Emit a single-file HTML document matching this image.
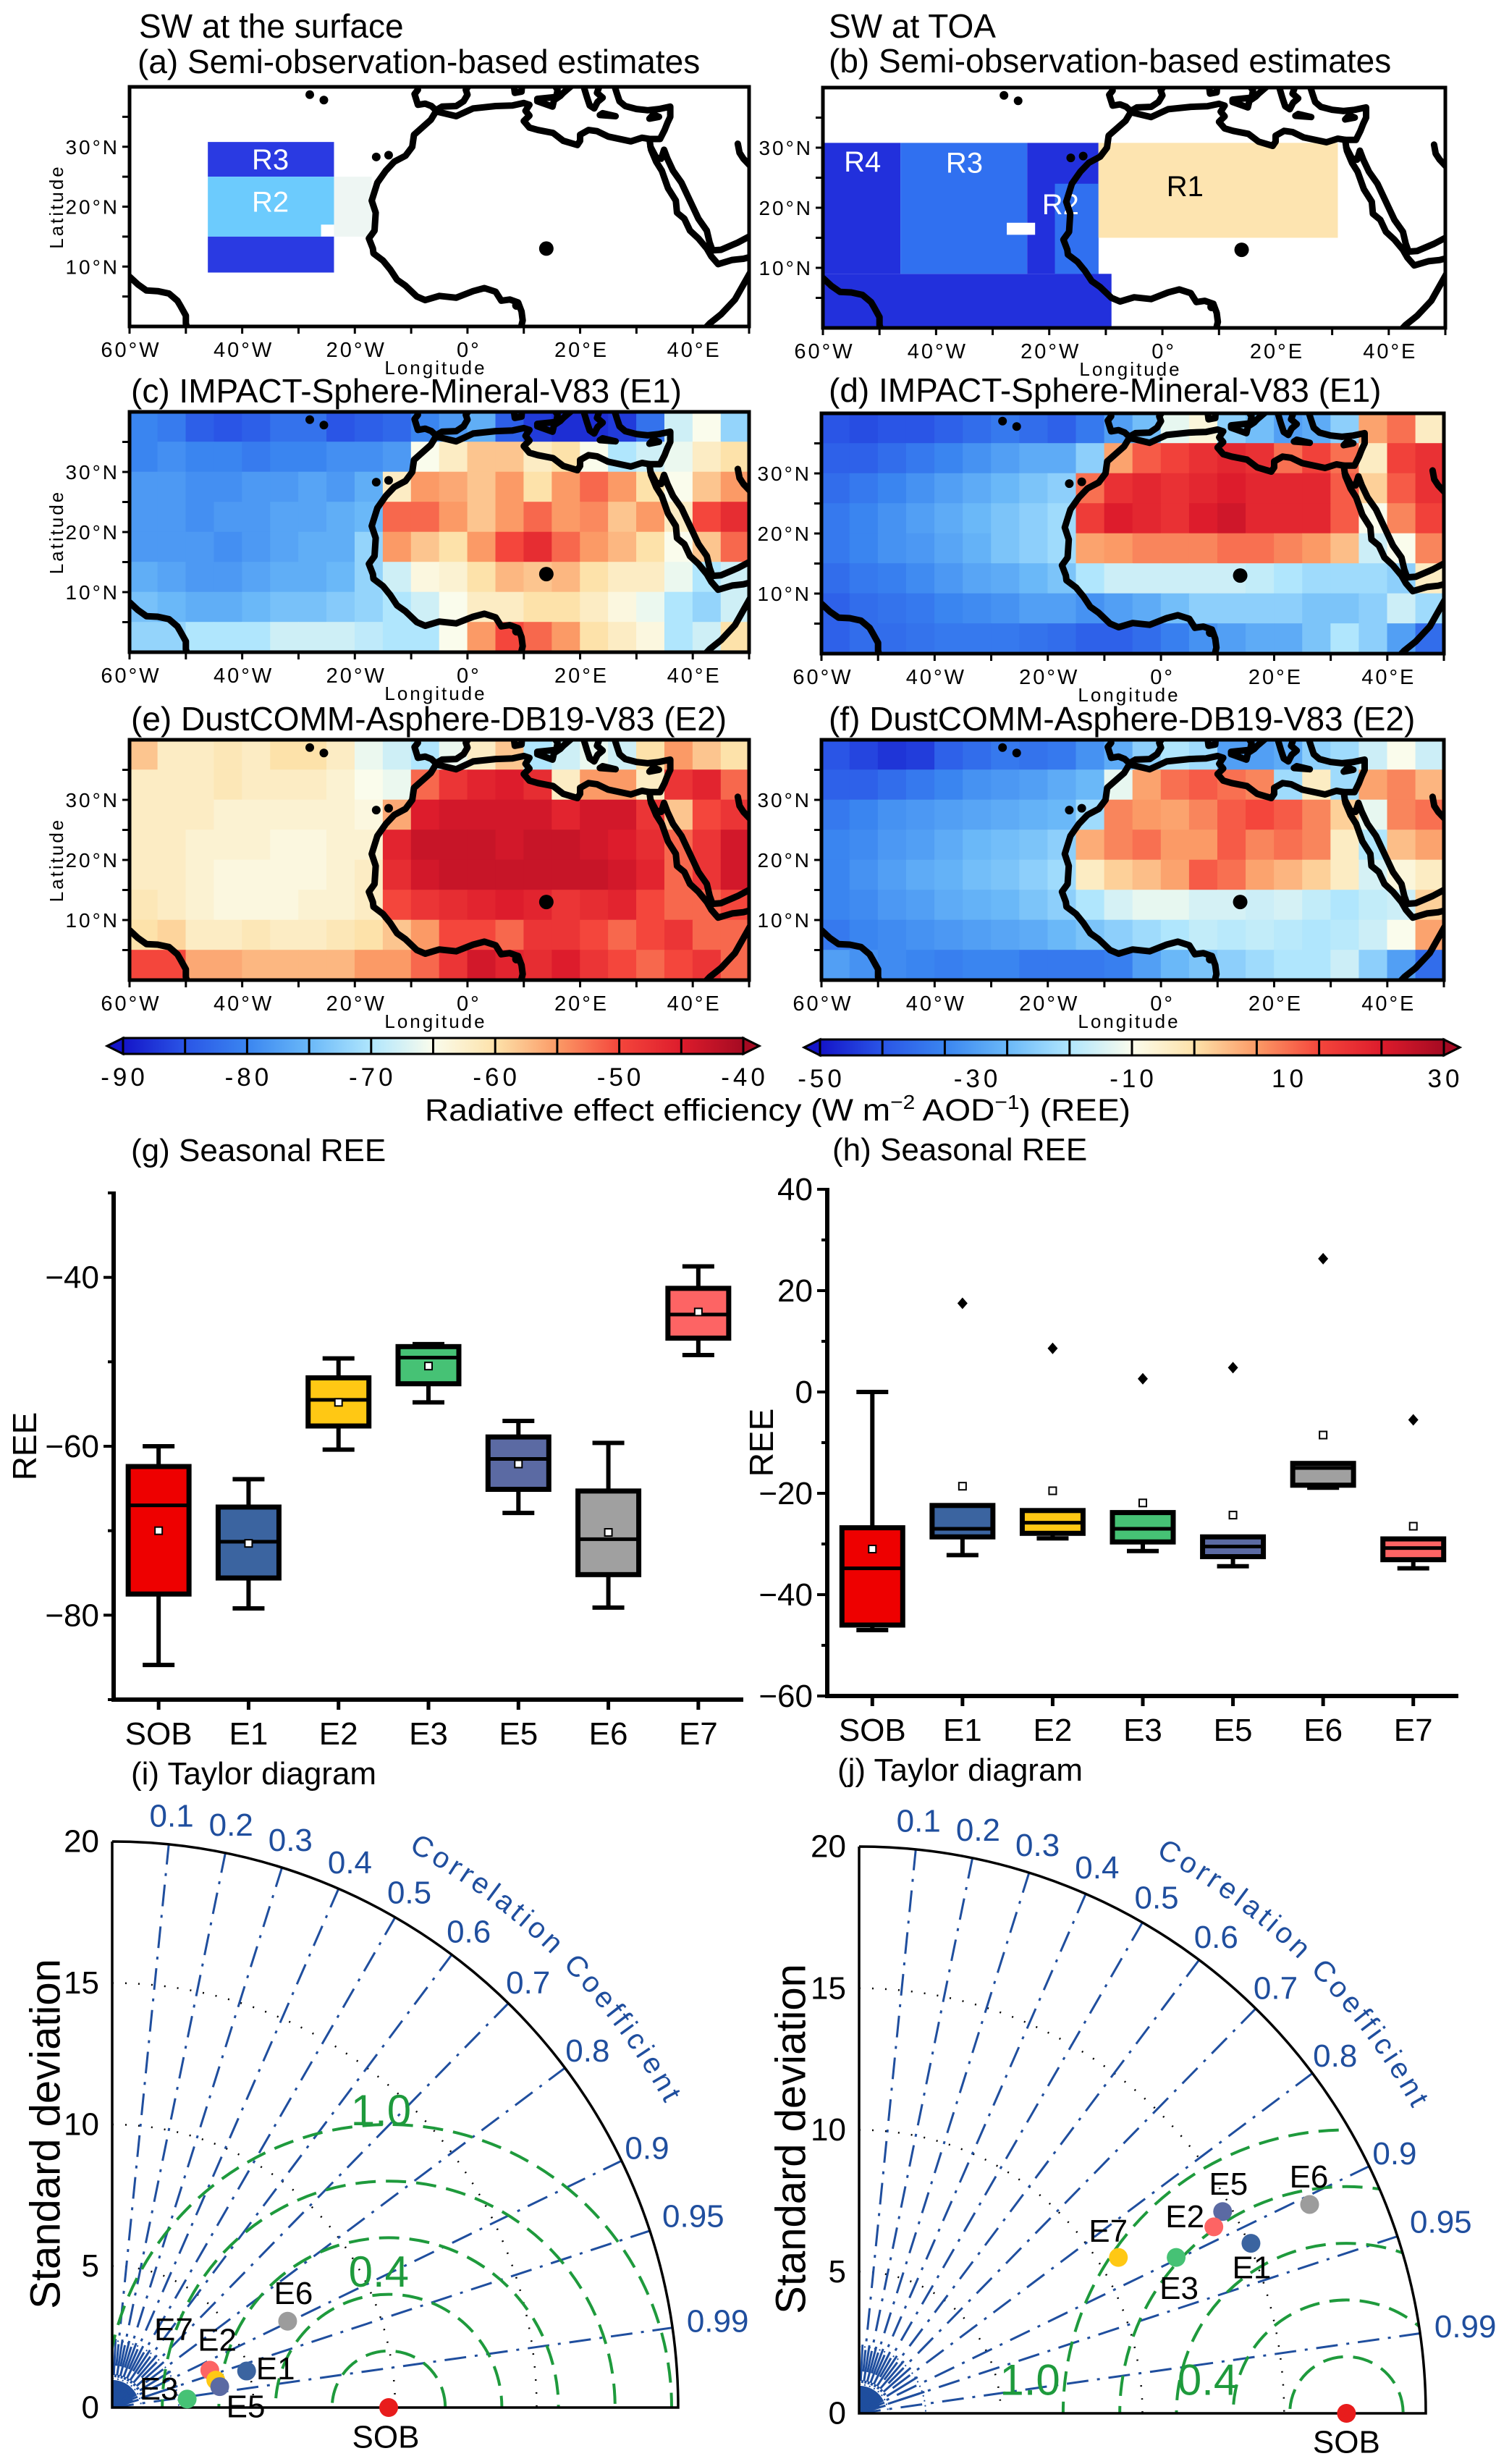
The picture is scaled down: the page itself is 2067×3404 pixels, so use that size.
<!DOCTYPE html>
<html><head><meta charset="utf-8">
<style>
html,body{margin:0;padding:0;background:#fff;width:2067px;height:3404px;overflow:hidden;}
svg{display:block;font-family:"Liberation Sans",Arial,sans-serif;overflow:hidden;}
</style></head>
<body>
<svg id="fig" xmlns="http://www.w3.org/2000/svg" width="2067" height="3404" viewBox="0 0 2067 3404">
<rect width="2067" height="3404" fill="#fff"/>
</svg>
<script>
// ---------------- DATA ----------------
const mapC = [
[-80,-81,-84,-85,-84,-82,-82,-85,-84,-83,-80,-78,-76,-84,-87,-88,-88,-87,-82,-68,-65,-72],
[-80,-79,-80,-80,-81,-80,-80,-79,-79,-78,-65,-62,-58,-58,-62,-60,-65,-70,-68,-66,-62,-60],
[-78,-78,-79,-79,-78,-78,-77,-78,-76,-62,-55,-56,-58,-55,-60,-55,-52,-55,-60,-65,-58,-55],
[-78,-78,-79,-78,-78,-77,-77,-76,-75,-52,-52,-55,-58,-55,-52,-55,-54,-58,-55,-62,-50,-47],
[-78,-78,-78,-79,-78,-77,-76,-76,-72,-55,-58,-60,-55,-50,-47,-52,-55,-57,-60,-65,-58,-52],
[-76,-77,-78,-78,-77,-76,-76,-75,-72,-68,-64,-63,-60,-57,-58,-57,-60,-62,-62,-66,-70,-68],
[-74,-75,-76,-76,-75,-74,-74,-73,-72,-70,-68,-65,-62,-62,-60,-60,-62,-64,-66,-70,-72,-68],
[-72,-72,-70,-70,-70,-68,-68,-68,-69,-70,-70,-65,-55,-50,-52,-55,-60,-62,-64,-70,-68,-60]];
const mapE = [
[-58,-62,-62,-61,-62,-60,-60,-62,-66,-68,-70,-66,-62,-58,-70,-68,-66,-68,-60,-55,-58,-60],
[-62,-62,-62,-61,-62,-62,-62,-63,-65,-66,-52,-48,-46,-45,-47,-62,-55,-55,-62,-48,-46,-52],
[-62,-62,-62,-63,-63,-63,-63,-63,-64,-56,-45,-44,-44,-44,-44,-46,-44,-44,-48,-58,-50,-48],
[-62,-62,-63,-63,-63,-64,-64,-63,-63,-46,-43,-43,-43,-44,-43,-43,-44,-45,-47,-52,-48,-44],
[-62,-62,-63,-64,-64,-64,-64,-63,-62,-47,-44,-43,-43,-43,-43,-43,-43,-44,-46,-52,-48,-44],
[-61,-62,-63,-64,-64,-64,-63,-63,-62,-50,-48,-47,-46,-45,-46,-48,-47,-46,-50,-52,-52,-50],
[-60,-59,-62,-62,-61,-62,-62,-61,-60,-58,-55,-50,-50,-52,-48,-48,-50,-52,-50,-48,-52,-52],
[-50,-50,-56,-56,-57,-57,-57,-57,-55,-55,-52,-48,-44,-46,-47,-45,-48,-50,-52,-50,-48,-52]];
const mapD = [
[-42,-43,-42,-42,-40,-38,-36,-38,-40,-36,-30,-25,-12,-8,-22,-25,-30,-28,-22,5,10,-5],
[-40,-40,-38,-36,-34,-32,-30,-28,-28,-22,5,12,15,18,20,18,10,15,10,-5,15,18],
[-38,-36,-34,-32,-30,-28,-26,-24,-22,10,18,20,18,20,22,20,20,20,12,0,12,18],
[-36,-34,-32,-30,-28,-26,-24,-22,-20,16,22,20,18,22,24,20,20,20,12,-10,8,15],
[-36,-34,-32,-31,-29,-27,-24,-22,-20,5,6,8,8,8,10,10,8,6,2,-15,-10,8],
[-38,-36,-35,-33,-31,-29,-28,-26,-24,-18,-15,-15,-15,-15,-15,-16,-18,-20,-20,-20,-22,-5],
[-40,-38,-37,-36,-34,-33,-32,-30,-30,-32,-30,-28,-25,-22,-22,-22,-22,-24,-24,-22,-15,-20],
[-40,-38,-38,-37,-36,-36,-36,-37,-38,-40,-40,-38,-35,-32,-30,-28,-28,-24,-18,-22,-30,-38]];
const mapF = [
[-42,-44,-46,-45,-40,-38,-36,-37,-36,-32,-28,-22,-18,-20,-30,-30,-28,-22,-20,-15,-10,-15],
[-40,-40,-38,-36,-34,-32,-31,-30,-28,-26,-12,5,10,12,10,8,-20,-5,-20,5,8,3],
[-36,-34,-32,-31,-30,-29,-28,-27,-26,-20,8,6,5,8,12,14,12,8,0,-12,8,10],
[-34,-33,-31,-30,-28,-26,-25,-24,-22,4,8,10,6,6,12,8,10,8,-5,-18,2,5],
[-34,-32,-30,-28,-27,-25,-24,-22,-20,-5,0,2,5,12,10,5,3,0,-5,-14,-8,-5],
[-34,-33,-31,-30,-28,-27,-26,-24,-22,-18,-14,-12,-12,-14,-14,-15,-14,-16,-18,-16,-15,0],
[-36,-34,-33,-32,-31,-30,-29,-28,-26,-24,-22,-20,-18,-16,-17,-16,-17,-18,-17,-15,-10,5],
[-30,-32,-33,-34,-35,-34,-34,-36,-36,-36,-35,-30,-26,-24,-22,-20,-18,-18,-15,-22,-30,-38]];

const boxCats = ['SOB','E1','E2','E3','E5','E6','E7'];
const gWhiskLo = [-85.9,-79.2,-60.4,-54.8,-67.9,-79.1,-49.2];
const gQ1 = [-77.5,-75.6,-57.6,-52.6,-65.1,-75.2,-47.2];
const gMed = [-67,-71.3,-54.5,-49.5,-61.5,-71,-44.4];
const gQ3 = [-62.4,-67.2,-51.9,-48.2,-58.9,-65.3,-41.3];
const gWhiskHi = [-60,-63.9,-49.6,-47.9,-57,-59.6,-38.7];
const gMean = [-70,-71.5,-54.8,-50.5,-62.1,-70.2,-44.1];
const gTicks = [-40,-60,-80];
const hWhiskLo = [-47,-32.2,-28.9,-31.4,-34.4,-18.9,-34.8];
const hQ1 = [-46,-28.6,-27.9,-29.6,-32.5,-18.4,-33.1];
const hMed = [-34.8,-27,-25.8,-27,-30.5,-15,-30.8];
const hQ3 = [-26.8,-22.4,-23.4,-23.8,-28.6,-14.1,-29];
const hWhiskHi = [0,-22.4,-23.4,-23.8,-28.6,-14.1,-29];
const hMean = [-31,-18.6,-19.5,-21.9,-24.3,-8.5,-26.5];
const hOutlier = [null,17.5,8.6,2.6,4.8,26.3,-5.5];
const hTicks = [40,20,0,-20,-40,-60];
const boxColors = ['#ee0000','#3b64a0','#ffc814','#46c275','#5b6aa3','#a0a0a0','#fd6464'];

const tCorrTicks = [0.1,0.2,0.3,0.4,0.5,0.6,0.7,0.8,0.9,0.95,0.99];
const tStdTicks = [0,5,10,15,20];
const tRms = [2,4,6,8,10];
const iNames = ['SOB','E6','E7','E2','E1','E5','E3'];
const iX = [9.77,6.2,3.45,3.66,4.75,3.8,2.65];
const iY = [0,3.05,1.32,0.97,1.29,0.74,0.3];
const iColors = ['#e81c1c','#9c9c9c','#fd6464','#ffc814','#3b64a0','#5b6aa3','#46c275'];
const jNames = ['SOB','E6','E5','E2','E1','E7','E3'];
const jX = [17.2,15.9,12.83,12.52,13.83,9.15,11.19];
const jY = [0,7.37,7.12,6.58,6.0,5.5,5.5];
const jColors = ['#e81c1c','#9c9c9c','#5b6aa3','#fd6464','#3b64a0','#ffc814','#46c275'];

// ---------------- HELPERS ----------------
const NS='http://www.w3.org/2000/svg';
const svg=document.getElementById('fig');
function mk(tag,attrs,parent){const e=document.createElementNS(NS,tag);for(const k in attrs)e.setAttribute(k,attrs[k]);(parent||svg).appendChild(e);return e;}
function txt(s,attrs,parent){const e=mk('text',attrs,parent);e.textContent=s;return e;}
const CMAP=[[0,[20,20,200]],[0.1,[42,85,230]],[0.2,[58,133,240]],[0.3,[106,184,248]],[0.4,[176,230,253]],[0.5,[250,252,236]],[0.6,[253,226,170]],[0.7,[251,154,102]],[0.8,[244,70,60]],[0.9,[221,28,44]],[1,[165,10,34]]];
function cmap(t){t=Math.max(0,Math.min(1,t));for(let i=1;i<CMAP.length;i++){if(t<=CMAP[i][0]){const a=CMAP[i-1],b=CMAP[i];const f=(t-a[0])/(b[0]-a[0]);const c=a[1].map((v,k)=>Math.round(v+(b[1][k]-v)*f));return 'rgb('+c.join(',')+')';}}return 'rgb(165,10,34)';}

const coasts=[
[[32.5,30],[32.3,31.3],[31,31.5],[29,30.9],[25,31.7],[23,32.6],[21.5,32.8],[20,32],[20,31],[19.5,30.3],[17,31],[15.2,32.3],[12.5,32.8],[11,33.2],[10,34.3],[11,35.2],[10.3,36],[11,37],[10,37.3],[8,36.9],[5,36.8],[1,36.4],[-2,35.1],[-5.6,35.9],[-6.5,34.5],[-9.5,32],[-9.8,30],[-11,28.5],[-13,27.5],[-14.5,26],[-16,24],[-17,21],[-16.3,19],[-16.5,16],[-17.5,14.7],[-16.8,13],[-16.7,12.2],[-15,11],[-13.7,9.5],[-12.5,7.8],[-11,6.8],[-9,5],[-7.5,4.4],[-5,5.1],[-2,4.8],[1,5.9],[3,6.4],[5,5.8],[6,4.3],[7.5,4.5],[9,4],[9.6,2.5],[9.8,1],[9.4,-0.5]],
[[32.5,30],[32.6,29.5],[33.5,27.5],[34.5,26],[35.6,23.1],[37,21],[37.2,19],[38.5,18],[39.5,16],[41,14.7],[42.5,13],[43.3,11.7],[44.5,10.4],[47,11.1],[49,11.3],[51,11.8]],
[[41.5,-1],[43,0.5],[45,2],[47.5,4.5],[49,7],[50.5,9.5],[51,11]],
[[32.3,31.3],[34.2,31.3],[35,32.8],[35.5,34],[36,35],[36,36.7],[34,36.3],[32,36.1],[30,36.3],[28,36.8],[27,37.6],[26.5,39],[26,40.5]],
[[32.5,30],[33.5,28.2],[34.4,28],[34.9,29.5],[35.5,28],[36.5,26],[38,24],[39,22],[40,20],[41,18],[42.5,16],[43,14],[43.5,12.7],[45,12.8],[48,14],[51,15.5]],
[[-9,40.5],[-8.8,39.5],[-9.4,38.8],[-8.8,37],[-7.5,37.2],[-6.4,36.8],[-5.6,36.1],[-4.5,36.7],[-2,36.8],[-0.7,37.6],[0,38.7],[-0.3,39.5],[0.6,40.7]],
[[18.5,40.2],[17,39],[16.5,38.5],[15.7,38],[16,39.5],[15.5,40.2],[14.5,40.6]],
[[12.4,38],[15.5,38.3],[15.1,36.7],[12.4,37.6],[12.4,38]],
[[8.4,39],[9.6,39.2],[9.7,40.5],[8.2,40.5],[8.4,39]],
[[20.5,40.5],[21.2,38.3],[21.7,36.9],[22.5,36.4],[23.1,37.5],[24,38.2],[23,39],[23.5,40.3]],
[[23.5,35.3],[26.3,35.1],[24,35.6],[23.5,35.3]],
[[32.3,34.7],[34,35],[33,35.4],[32.3,34.7]],
[[48,30.5],[48.3,29],[49,28],[50.5,26.5]],
[[-61,8.7],[-60,8.3],[-58.5,7],[-57,6],[-55,5.9],[-53,5.5],[-51.5,4.3],[-51,3.5],[-50,1.8],[-50,0.5],[-49.5,-1]]];
const islands=[[-28,38.7],[-25.5,37.8],[-16.2,28.3],[-14,28.6],[14,13],[8.7,3.5]];

let clipId=0;
function drawMap(name,m,field,vmin,vmax,showLatTitle,regions){
  const g=mk('g',{});
  
  
  const X=lon=>m.x+(lon+60)/110*m.w, Y=lat=>m.y+(40-lat)/40*m.h;
  const cid='clip'+(clipId++);
  const cp=mk('clipPath',{id:cid},g);mk('rect',{x:m.x,y:m.y,width:m.w,height:m.h},cp);
  const inner=mk('g',{'clip-path':'url(#'+cid+')'},g);
  if(field){
    field.forEach((row,r)=>row.forEach((v,c)=>{
      const lon0=-60+5*c, lat1=40-5*r;
      const cell=mk('rect',{x:X(lon0)-0.3,y:Y(lat1)-0.3,width:X(lon0+5)-X(lon0)+0.6,height:Y(lat1-5)-Y(lat1)+0.6,fill:cmap((v-vmin)/(vmax-vmin))},inner);
      
      
    }));
  }
  if(regions){regions.forEach(rg=>{
    const rr=mk('rect',{x:X(rg.lon0),y:Y(rg.lat1),width:X(rg.lon1)-X(rg.lon0),height:Y(rg.lat0)-Y(rg.lat1),fill:rg.fill},inner);
    
    
  });
  regions.forEach(rg=>{if(rg.label){const t=txt(rg.label,{x:X(rg.lx),y:Y(rg.ly),'font-size':40,fill:rg.tc||'#fff','text-anchor':'middle','dominant-baseline':'central'},inner);}});}
  coasts.forEach(line=>{
    const p=mk('polyline',{points:line.map(q=>X(q[0]).toFixed(1)+','+Y(q[1]).toFixed(1)).join(' '),fill:'none',stroke:'#000','stroke-width':9,'stroke-linejoin':'round','stroke-linecap':'round'},inner);
    
    
  });
  islands.forEach((q,i)=>{const c=mk('circle',{cx:X(q[0]),cy:Y(q[1]),r:i==4?10:6,fill:'#000'},inner);});
  mk('rect',{x:m.x,y:m.y,width:m.w,height:m.h,fill:'none',stroke:'#000','stroke-width':5},g);
  for(let lon=-60;lon<=50;lon+=10){mk('line',{x1:X(lon),x2:X(lon),y1:m.y+m.h,y2:m.y+m.h+10,stroke:'#000','stroke-width':3},g);}
  [-60,-40,-20,0,20,40].forEach(lon=>{const s=lon<0?(-lon)+'°W':lon==0?'0°':lon+'°E';const t=txt(s,{x:X(lon)+2,y:m.y+m.h+42,'font-size':29,'letter-spacing':3,'text-anchor':'middle'},g);});
  for(let lat=5;lat<=35;lat+=5){mk('line',{x1:m.x-10,x2:m.x,y1:Y(lat),y2:Y(lat),stroke:'#000','stroke-width':3},g);}
  [10,20,30].forEach(lat=>{const t=txt(lat+'°N',{x:m.x-14,y:Y(lat)+10,'font-size':28,'letter-spacing':3,'text-anchor':'end'},g);});
  const lt=txt('Longitude',{x:m.x+m.w/2-5,y:m.y+m.h+66,'font-size':26,'letter-spacing':3,'text-anchor':'middle'},g);
  
  if(showLatTitle){const la=txt('Latitude',{x:0,y:0,'font-size':26,'letter-spacing':3,'text-anchor':'middle',transform:'translate('+(m.x-92)+','+(m.y+m.h/2)+') rotate(-90)'},g);}
}
function title(s,x,y,name,size){const t=txt(s,{x:x,y:y,'font-size':size||46},svg);return t;}

title('SW at the surface',192,52,'column-title-surface');
title('(a) Semi-observation-based estimates',190,101,'panel-a-title');
title('SW at TOA',1145,52,'column-title-toa');
title('(b) Semi-observation-based estimates',1145,100,'panel-b-title');
title('(c) IMPACT-Sphere-Mineral-V83 (E1)',181,556,'panel-c-title');
title('(d) IMPACT-Sphere-Mineral-V83 (E1)',1145,555,'panel-d-title');
title('(e) DustCOMM-Asphere-DB19-V83 (E2)',181,1009,'panel-e-title');
title('(f) DustCOMM-Asphere-DB19-V83 (E2)',1145,1009,'panel-f-title');

drawMap('map-a',{x:179,y:120,w:856,h:331},null,0,1,true,[
 {lon0:-46.1,lon1:-23.7,lat0:25,lat1:30.8,fill:'#2a3ae2',label:'R3',lx:-35,ly:27.8},
 {lon0:-23.7,lon1:-17,lat0:15,lat1:25,fill:'#eef6f3'},
 {lon0:-46.1,lon1:-23.7,lat0:15,lat1:25,fill:'#6ccbfd',label:'R2',lx:-35,ly:20.7},
 {lon0:-26,lon1:-23.7,lat0:15,lat1:17,fill:'#ffffff'},
 {lon0:-46.1,lon1:-23.7,lat0:9,lat1:15,fill:'#2a3ae2'}]);
drawMap('map-b',{x:1137,y:121,w:860,h:332},null,0,1,false,[
 {lon0:-60,lon1:-9,lat0:0,lat1:9,fill:'#2230dc'},
 {lon0:-60,lon1:-46.3,lat0:9,lat1:30.8,fill:'#2230dc',label:'R4',lx:-53,ly:27.6},
 {lon0:-46.3,lon1:-23.9,lat0:9,lat1:30.8,fill:'#3070f0',label:'R3',lx:-35,ly:27.4},
 {lon0:-23.9,lon1:-11.3,lat0:9,lat1:30.8,fill:'#2230dc'},
 {lon0:-19,lon1:-11.3,lat0:9,lat1:24,fill:'#3070f0',label:'R2',lx:-18,ly:20.5},
 {lon0:-27.5,lon1:-22.5,lat0:15.5,lat1:17.5,fill:'#ffffff'},
 {lon0:-11.3,lon1:31,lat0:15,lat1:30.8,fill:'#fde4b0',label:'R1',lx:4,ly:23.5,tc:'#000'}]);
drawMap('map-c',{x:179,y:569,w:856,h:332},mapC,-90,-40,true);
drawMap('map-d',{x:1135,y:571,w:860,h:332},mapD,-50,30,false);
drawMap('map-e',{x:179,y:1022,w:856,h:332},mapE,-90,-40,true);
drawMap('map-f',{x:1135,y:1022,w:860,h:332},mapF,-50,30,false);

const cbLeftTicks=[-90,-80,-70,-60,-50,-40];
const cbRightTicks=[-50,-30,-10,10,30];
function colorbar(name,x0,x1,y0,h,vmin,vmax,nseg,ticks){
  const g=mk('g',{});
  
  
  const gid=name+'-grad';
  const lg=mk('linearGradient',{id:gid,x1:0,x2:1,y1:0,y2:0},g);
  for(let i=0;i<=20;i++)mk('stop',{offset:i/20,'stop-color':cmap(i/20)},lg);
  mk('polygon',{points:(x0-22)+','+(y0+h/2)+' '+x0+','+y0+' '+x0+','+(y0+h),fill:cmap(0),stroke:'#000','stroke-width':3},g);
  mk('polygon',{points:(x1+22)+','+(y0+h/2)+' '+x1+','+y0+' '+x1+','+(y0+h),fill:cmap(1),stroke:'#000','stroke-width':3},g);
  mk('rect',{x:x0,y:y0,width:x1-x0,height:h,fill:'url(#'+gid+')',stroke:'#000','stroke-width':3},g);
  for(let i=1;i<nseg;i++){const x=x0+(x1-x0)*i/nseg;mk('line',{x1:x,x2:x,y1:y0,y2:y0+h,stroke:'#000','stroke-width':3},g);}
  ticks.forEach(v=>{const x=x0+(v-vmin)/(vmax-vmin)*(x1-x0);const t=txt(String(v),{x:x+2,y:y0+h+44,'font-size':35,'letter-spacing':5,'text-anchor':'middle'},g);});
}
colorbar('colorbar-surface',170,1027,1434,22,-90,-40,10,cbLeftTicks);
colorbar('colorbar-toa',1133,1995,1436,22,-50,30,10,cbRightTicks);
{const t=mk('text',{x:587,y:1548,'font-size':43,textLength:975,lengthAdjust:'spacingAndGlyphs'});

t.innerHTML='Radiative effect efficiency (W m<tspan font-size="28" dy="-16">−2</tspan><tspan dy="16"> AOD</tspan><tspan font-size="28" dy="-16">−1</tspan><tspan dy="16">) (REE)</tspan>';}

function boxplot(name,ax,lo,q1,med,q3,hi,mean,outl,ticks,minor){
  const g=mk('g',{});
  
  
  const Y=v=>ax.y0+(ax.vmax-v)/(ax.vmax-ax.vmin)*(ax.y1-ax.y0);
  const bw=(ax.x1-ax.x0)/boxCats.length;
  const X=i=>ax.x0+(i+0.5)*bw;
  mk('line',{x1:ax.x0,x2:ax.x0,y1:ax.y0-2,y2:ax.y1+3,stroke:'#000','stroke-width':6},g);
  mk('line',{x1:ax.x0-3,x2:ax.x1,y1:ax.y1,y2:ax.y1,stroke:'#000','stroke-width':6},g);
  ticks.forEach(v=>{mk('line',{x1:ax.x0-14,x2:ax.x0,y1:Y(v),y2:Y(v),stroke:'#000','stroke-width':4},g);
    const t=txt(v<0?'−'+(-v):String(v),{x:ax.x0-20,y:Y(v)+15,'font-size':44,'text-anchor':'end'},g);});
  minor.forEach(v=>mk('line',{x1:ax.x0-8,x2:ax.x0,y1:Y(v),y2:Y(v),stroke:'#000','stroke-width':4},g));
  boxCats.forEach((c,i)=>{
    const x=X(i),w=84;
    mk('line',{x1:x,x2:x,y1:ax.y1,y2:ax.y1+14,stroke:'#000','stroke-width':5},g);
    const lab=txt(c,{x:x,y:ax.y1+62,'font-size':44,'text-anchor':'middle'},g);
    
    const wk=mk('path',{d:'M'+x+','+Y(hi[i])+'V'+Y(q3[i])+'M'+x+','+Y(q1[i])+'V'+Y(lo[i])+'M'+(x-22)+','+Y(hi[i])+'H'+(x+22)+'M'+(x-22)+','+Y(lo[i])+'H'+(x+22),stroke:'#000','stroke-width':6,fill:'none'},g);
    
    const b=mk('rect',{x:x-w/2,y:Y(q3[i]),width:w,height:Math.max(2,Y(q1[i])-Y(q3[i])),fill:boxColors[i],stroke:'#000','stroke-width':7},g);
    
    mk('line',{x1:x-w/2,x2:x+w/2,y1:Y(med[i]),y2:Y(med[i]),stroke:'#000','stroke-width':5},g);
    const mn=mk('rect',{x:x-5,y:Y(mean[i])-5,width:10,height:10,fill:'#fff',stroke:'#000','stroke-width':2},g);
    
    if(outl&&outl[i]!==null){const yo=Y(outl[i]);const o=mk('polygon',{points:x+','+(yo-8)+' '+(x+7)+','+yo+' '+x+','+(yo+8)+' '+(x-7)+','+yo,fill:'#000'},g);}
  });
  const yl=txt('REE',{x:0,y:0,'font-size':46,'text-anchor':'middle',transform:'translate('+ax.ylx+','+((ax.y0+ax.y1)/2)+') rotate(-90)'},g);
  
}
title('(g) Seasonal REE',181,1604,'panel-g-title',44);
title('(h) Seasonal REE',1150,1603,'panel-h-title',44);
boxplot('boxplot-g',{x0:157,x1:1027,y0:1648,y1:2348,vmin:-90,vmax:-30,ylx:50},gWhiskLo,gQ1,gMed,gQ3,gWhiskHi,gMean,null,gTicks,[-30,-50,-70,-90]);
boxplot('boxplot-h',{x0:1143,x1:2015,y0:1643,y1:2343,vmin:-60,vmax:40,ylx:1068},hWhiskLo,hQ1,hMed,hQ3,hWhiskHi,hMean,hOutlier,hTicks,[30,10,-10,-30,-50]);

function taylor(name,ox,oy,R,ref,xs,ys,names,colors,lblOff,rmsLbl,stdX,stdY){
  const g=mk('g',{});
  
  
  const s=R/20;
  const P=(x,y)=>[ox+x*s,oy-y*s];
  const cid='tclip'+(clipId++);
  const cp=mk('clipPath',{id:cid},g);
  mk('path',{d:'M'+ox+','+oy+'H'+(ox+R)+'A'+R+','+R+' 0 0 0 '+ox+','+(oy-R)+'Z'},cp);
  const inner=mk('g',{'clip-path':'url(#'+cid+')'},g);
  for(let c=0;c<=1.0001;c+=0.04){const th=Math.acos(Math.min(1,c));mk('line',{x1:ox+14*Math.cos(th),y1:oy-14*Math.sin(th),x2:ox+38*Math.cos(th),y2:oy-38*Math.sin(th),stroke:'#1f4e9e','stroke-width':3},inner);}
  for(let c=0.05;c<1;c+=0.1){const th=Math.acos(c);mk('line',{x1:ox+45*Math.cos(th),y1:oy-45*Math.sin(th),x2:ox+95*Math.cos(th),y2:oy-95*Math.sin(th),stroke:'#1f4e9e','stroke-width':3},inner);}
  [40,92].forEach(r=>mk('path',{d:'M'+ox+','+(oy-r)+'A'+r+','+r+' 0 0 1 '+(ox+r)+','+oy,fill:'none',stroke:'#1f4e9e','stroke-width':2,'stroke-dasharray':'2 5'},inner));
  [5,10,15].forEach(v=>{const r=v*s;mk('path',{d:'M'+ox+','+(oy-r)+'A'+r+','+r+' 0 0 1 '+(ox+r)+','+oy,fill:'none',stroke:'#000','stroke-width':2.5,'stroke-dasharray':'2 16'},inner);});
  tCorrTicks.forEach(c=>{const th=Math.acos(c);const l=mk('line',{x1:ox,y1:oy,x2:ox+R*Math.cos(th),y2:oy-R*Math.sin(th),stroke:'#1f4e9e','stroke-width':3,'stroke-dasharray':'30 12 4 12'},inner);
    const lr=R*1.05+ (c>=0.95?24:0);const t=txt(String(c),{x:ox+lr*Math.cos(th),y:oy-lr*Math.sin(th),'font-size':44,fill:'#1f4e9e','text-anchor':'middle','dominant-baseline':'central'},g);});
  tRms.forEach(r=>{const c=P(ref,0);const ci=mk('circle',{cx:c[0],cy:c[1],r:r*s,fill:'none',stroke:'#1e9a3c','stroke-width':4,'stroke-dasharray':'28 14'},inner);});
  rmsLbl.forEach(l=>{const p=P(l.x,l.y);const t=txt(l.t,{x:p[0],y:p[1],'font-size':60,fill:'#1e9a3c','text-anchor':'middle','dominant-baseline':'central'},g);});
  mk('path',{d:'M'+ox+','+(oy-R)+'V'+oy+'H'+(ox+R)+'A'+R+','+R+' 0 0 0 '+ox+','+(oy-R),fill:'none',stroke:'#000','stroke-width':3.5},g);
  tStdTicks.forEach(v=>{const t=txt(String(v),{x:ox-18,y:oy-v*s,'font-size':44,'text-anchor':'end','dominant-baseline':'central'},g);});
  const sd=txt('Standard deviation',{x:0,y:0,'font-size':58,'text-anchor':'middle','dominant-baseline':'central',transform:'translate('+stdX+','+stdY+') rotate(-90)'},g);
  
  const ar=22.3*s,a0=62*Math.PI/180,a1=26*Math.PI/180;
  const pid=name+'-cc';
  mk('path',{id:pid,d:'M'+(ox+ar*Math.cos(a0))+','+(oy-ar*Math.sin(a0))+'A'+ar+','+ar+' 0 0 1 '+(ox+ar*Math.cos(a1))+','+(oy-ar*Math.sin(a1)),fill:'none'},g);
  const cc=mk('text',{'font-size':40,fill:'#1f4e9e','letter-spacing':5},g);
  
  const tp=mk('textPath',{href:'#'+pid},cc);tp.textContent='Correlation Coefficient';
  xs.forEach((x,i)=>{const p=P(x,ys[i]);const c=mk('circle',{cx:p[0],cy:p[1],r:13,fill:colors[i]},g);
    
    const t=txt(names[i],{x:p[0]+lblOff[i][0],y:p[1]+lblOff[i][1],'font-size':44,'text-anchor':'middle','dominant-baseline':'central'},g);
    });
}
title('(i) Taylor diagram',181,2465,'panel-i-title',44);
title('(j) Taylor diagram',1157,2460,'panel-j-title',44);
const iLblOff=[[-4,41],[8,-38],[-50,-56],[2,-55],[40,-3],[36,28],[-39,-14]];
const jLblOff=[[0,40],[-1,-38],[8,-38],[-40,-14],[1,34],[-14,-36],[4,43]];
taylor('taylor-i',155,3326,782,9.77,iX,iY,iNames,iColors,iLblOff,[{t:'1.0',x:9.5,y:10.5},{t:'0.4',x:9.42,y:4.8}],63,2948);
taylor('taylor-j',1187,3334,783,17.2,jX,jY,jNames,jColors,jLblOff,[{t:'1.0',x:6.03,y:1.18},{t:'0.4',x:12.3,y:1.18}],1093,2955);
</script>
</body></html>
